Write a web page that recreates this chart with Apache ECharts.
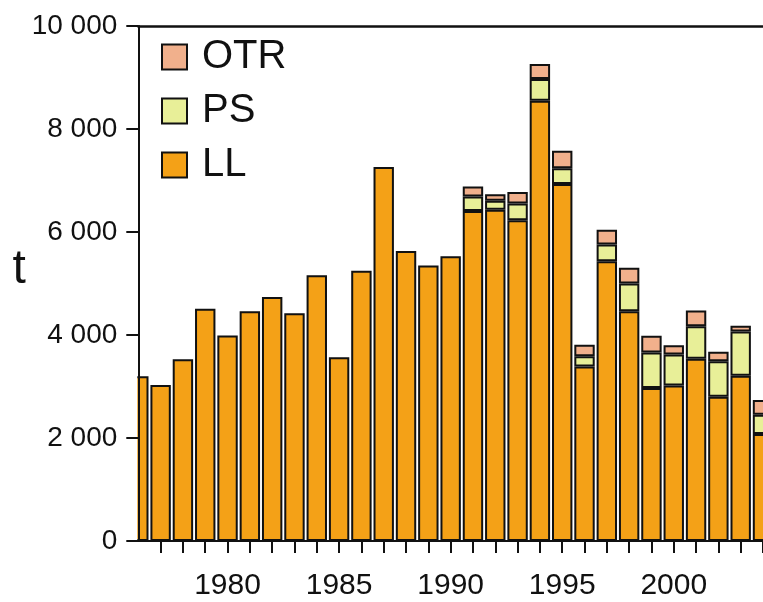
<!DOCTYPE html>
<html>
<head>
<meta charset="utf-8">
<script src="https://cdn.jsdelivr.net/npm/echarts@6/dist/echarts.min.js"></script>
<style>
  html, body { margin: 0; padding: 0; background: #fff; }
  #chart { width: 763px; height: 602px; }
</style>
</head>
<body>
<div id="chart"></div>
<script>
// ---- Data ----
var years = ['1976', '1977', '1978', '1979', '1980', '1981', '1982', '1983', '1984', '1985',
             '1986', '1987', '1988', '1989', '1990', '1991', '1992', '1993', '1994', '1995',
             '1996', '1997', '1998', '1999', '2000', '2001', '2002', '2003', '2004'];
var LL  = [3200, 3030, 3530, 4510, 3990, 4460, 4740, 4420, 5160, 3570,
           5250, 7260, 5630, 5350, 5530, 6410, 6430, 6230, 8550, 6930,
           3390, 5430, 4460, 2970, 3020, 3540, 2800, 3210, 2080];
var PS  = [0, 0, 0, 0, 0, 0, 0, 0, 0, 0,
           0, 0, 0, 0, 0, 280, 175, 325, 420, 310,
           195, 325, 540, 690, 600, 630, 690, 860, 370];
var OTR = [0, 0, 0, 0, 0, 0, 0, 0, 0, 0,
           0, 0, 0, 0, 0, 195, 130, 220, 290, 340,
           225, 290, 305, 325, 180, 305, 185, 110, 290];
var yTicks = [0, 2000, 4000, 6000, 8000, 10000];
var xLabelYears = ['1980', '1985', '1990', '1995', '2000'];

var FONT = 'Liberation Sans, Arial, Helvetica, sans-serif';
var colors = { LL: '#F4A117', PS: '#E8EF98', OTR: '#F1B08C' };

function fmt(v) {
  return String(v).replace(/\B(?=(\d{3})+(?!\d))/g, ' ');
}

function barSeries(name, vals) {
  return {
    name: name,
    type: 'bar',
    stack: 'total',
    barWidth: 20.4,
    data: vals.map(function (v) { return v === 0 ? '-' : v; }),
    itemStyle: { color: colors[name], borderColor: '#111', borderWidth: 2 },
    emphasis: { disabled: true },
    clip: true
  };
}

var GRID_LEFT = 138.3;

var chart = echarts.init(document.getElementById('chart'), null, { renderer: 'canvas' });
chart.setOption({
  animation: false,
  backgroundColor: '#ffffff',
  grid: { left: GRID_LEFT, width: 628, top: 26, bottom: 61, containLabel: false },
  // white margin outside the plot area (hides the part of the first bar left of the axis)
  graphic: [{
    type: 'rect',
    z: 5,
    silent: true,
    shape: { x: 0, y: 0, width: GRID_LEFT - 1, height: 602 },
    style: { fill: '#ffffff' }
  }],
  legend: {
    orient: 'vertical',
    left: 161,
    top: 37,
    padding: 0,
    z: 10,
    itemWidth: 25,
    itemHeight: 25,
    itemGap: 14,
    icon: 'rect',
    data: ['OTR', 'PS', 'LL'],
    textStyle: { fontSize: 40, fontFamily: FONT, color: '#111', padding: [0, 0, 0, 10] }
  },
  xAxis: [{
    type: 'category',
    data: years,
    boundaryGap: false,
    position: 'bottom',
    z: 10,
    splitLine: { show: false },
    axisLine: { show: true, onZero: false, lineStyle: { color: '#111', width: 2 } },
    axisTick: { show: true, inside: false, length: 12,
                interval: function (i) { return i > 0; },
                lineStyle: { color: '#111', width: 2 } },
    axisLabel: { show: true, margin: 30,
                 interval: function (i, v) { return xLabelYears.indexOf(v) >= 0; },
                 fontSize: 30, fontFamily: FONT, color: '#111' }
  }, {
    type: 'category',
    data: years,
    boundaryGap: false,
    position: 'top',
    z: 10,
    splitLine: { show: false },
    axisLine: { show: true, onZero: false, lineStyle: { color: '#111', width: 2.5 } },
    axisTick: { show: false },
    axisLabel: { show: false }
  }],
  yAxis: {
    type: 'value',
    min: yTicks[0],
    max: yTicks[yTicks.length - 1],
    interval: 2000,
    z: 10,
    name: 't',
    nameLocation: 'middle',
    nameRotate: 0,
    nameGap: 111,
    nameTextStyle: { fontSize: 48, fontFamily: FONT, color: '#111',
                     verticalAlign: 'bottom', lineHeight: 28 },
    splitLine: { show: false },
    axisLine: { show: true, lineStyle: { color: '#111', width: 2 } },
    axisTick: { show: true, inside: false, length: 12, lineStyle: { color: '#111', width: 2 } },
    axisLabel: { margin: 21, fontSize: 28, fontFamily: FONT, color: '#111',
                 formatter: function (v) { return fmt(v); } }
  },
  series: [
    barSeries('LL', LL),
    barSeries('PS', PS),
    barSeries('OTR', OTR)
  ]
});
</script>
</body>
</html>
